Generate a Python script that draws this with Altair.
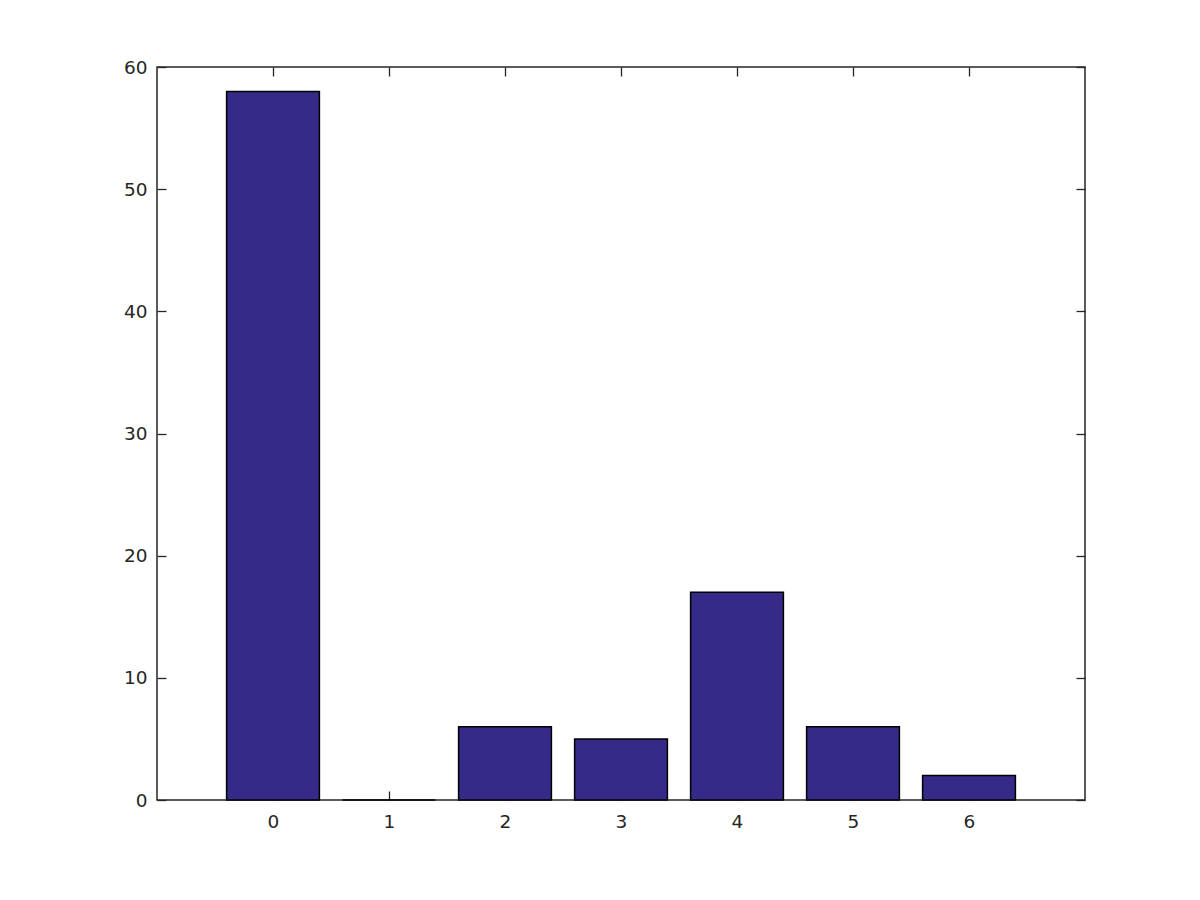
import altair as alt
import pandas as pd

categories = [0, 1, 2, 3, 4, 5, 6]
counts = [58, 0, 6, 5, 17, 6, 2]
x_ticks = [0, 1, 2, 3, 4, 5, 6]
y_ticks = [0, 10, 20, 30, 40, 50, 60]

df = pd.DataFrame({"cat": categories, "count": counts})

AXC = "#262626"
FONT = "DejaVu Sans"

xscale = alt.Scale(domain=[-1, 7], nice=False, zero=False, padding=0)
yscale = alt.Scale(domain=[0, 60], nice=False, padding=0)

common_axis = dict(
    grid=False, domain=False, tickColor=AXC, tickWidth=1.3, tickSize=9,
    offset=-9, labelFont=FONT, labelFontSize=18.5, labelColor=AXC,
)

base = alt.Chart(df).transform_calculate(
    x0="datum.cat - 0.4", x1="datum.cat + 0.4", base0="0"
)

bars = base.mark_bar(
    color="#352A87", stroke="#000000", strokeWidth=1.5
).encode(
    x=alt.X("x0:Q", scale=xscale, title=None,
            axis=alt.Axis(orient="bottom", values=x_ticks, labelPadding=12, **common_axis)),
    x2="x1:Q",
    y=alt.Y("count:Q", scale=yscale, title=None,
            axis=alt.Axis(orient="left", values=y_ticks, labelPadding=10, **common_axis)),
    y2="base0:Q",
)

ghost = base.mark_point(opacity=0).encode(
    x=alt.X("cat:Q", scale=xscale, title=None,
            axis=alt.Axis(orient="top", values=x_ticks, labels=False, **common_axis)),
    y=alt.Y("count:Q", scale=yscale, title=None,
            axis=alt.Axis(orient="right", values=y_ticks, labels=False, **common_axis)),
)

chart = alt.layer(bars, ghost).properties(
    width=928, height=733,
    background="white",
    autosize=alt.AutoSizeParams(type="none"),
    padding={"left": 149, "top": 59, "right": 107, "bottom": 92},
).configure_view(
    stroke=AXC, strokeWidth=1.5
)

chart.save("out.html", embed_options={"renderer": "svg", "actions": False})
